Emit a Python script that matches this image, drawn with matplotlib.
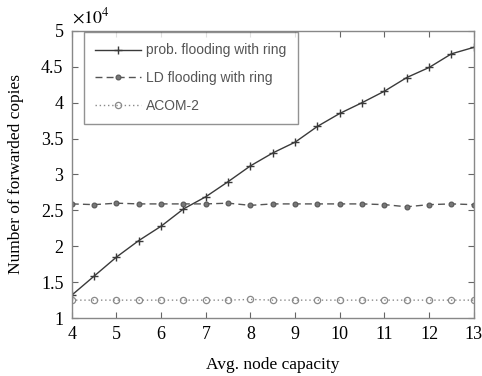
import matplotlib
matplotlib.use("Agg")
import matplotlib.pyplot as plt

plt.rcParams['mathtext.fontset'] = 'stix'

capacity = [4, 4.5, 5, 5.5, 6, 6.5, 7, 7.5, 8, 8.5, 9, 9.5, 10, 10.5, 11, 11.5, 12, 12.5, 13]
prob_flooding = [1.32, 1.585, 1.85, 2.08, 2.28, 2.52, 2.69, 2.90, 3.12, 3.30, 3.45, 3.67, 3.85, 4.00, 4.16, 4.35, 4.49, 4.68, 4.77]
ld_flooding = [2.59, 2.58, 2.60, 2.59, 2.59, 2.59, 2.59, 2.60, 2.57, 2.59, 2.59, 2.59, 2.59, 2.59, 2.58, 2.55, 2.58, 2.59, 2.58]
acom2 = [1.25, 1.25, 1.25, 1.25, 1.25, 1.25, 1.25, 1.25, 1.26, 1.25, 1.25, 1.25, 1.25, 1.25, 1.25, 1.25, 1.25, 1.25, 1.25]
series_labels = ["prob. flooding with ring", "LD flooding with ring", "ACOM-2"]
xticks = [4, 5, 6, 7, 8, 9, 10, 11, 12, 13]
yticks = [1, 1.5, 2, 2.5, 3, 3.5, 4, 4.5, 5]

serif = ["Liberation Serif", "DejaVu Serif"]
fig = plt.figure(figsize=(4.82, 3.76), dpi=100)
ax = fig.add_axes([0.149, 0.154, 0.834, 0.764])

ax.plot(capacity, prob_flooding, linestyle='-', marker='+', color='#3a3a3a', lw=1.0, ms=6, mew=1.0, label=series_labels[0])
ax.plot(capacity, ld_flooding, linestyle=(0, (5, 3)), marker='o', color='#555555', lw=1.0, ms=3.5, mfc='#777777', mew=0.8, label=series_labels[1])
ax.plot(capacity, acom2, linestyle=(0, (1, 2)), marker='o', color='#8a8a8a', lw=1.0, ms=4.5, mfc='none', mew=0.9, label=series_labels[2])

ax.set_xlim(4, 13)
ax.set_ylim(1, 5)
ax.set_xticks(xticks)
ax.set_yticks(yticks)
ax.set_xticklabels([str(t) for t in xticks], family=serif, fontsize=13)
ax.set_yticklabels([("%g" % t) for t in yticks], family=serif, fontsize=13)
ax.tick_params(direction='in', top=True, right=True, length=4, width=0.8, color='#666666', pad=6)
for s in ax.spines.values():
    s.set_color('#888888')
    s.set_linewidth(1.0)

ax.set_xlabel("Avg. node capacity", family=serif, fontsize=12.5, labelpad=10)
ax.set_ylabel("Number of forwarded copies", family=serif, fontsize=12.5, labelpad=12)
ax.text(0.0, 1.015, r"$\times10^4$", transform=ax.transAxes, fontsize=13, ha='left', va='bottom')

leg = ax.legend(loc='upper left', bbox_to_anchor=(0.03, 0.995), prop={'family': 'Liberation Sans', 'size': 10},
                frameon=True, fancybox=False, borderaxespad=0.0, handlelength=3.3, handletextpad=0.4,
                labelspacing=1.0, borderpad=0.8)
leg.get_frame().set_edgecolor('#777777')
leg.get_frame().set_linewidth(1.0)
for t in leg.get_texts():
    t.set_color('#555555')

fig.savefig("out.png", dpi=100)
